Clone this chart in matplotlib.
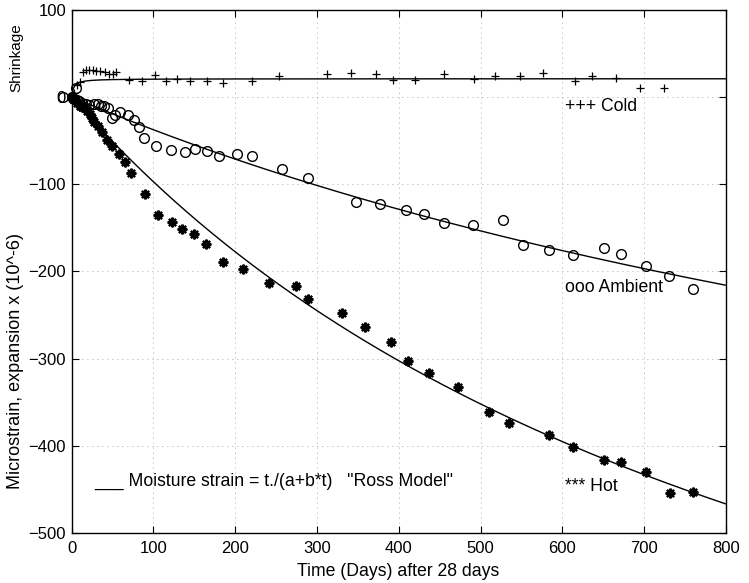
"""
Moisture strain vs time for cold / ambient / hot curing, with Ross model fits.
"""

import numpy as np
import matplotlib
matplotlib.use("Agg")
import matplotlib.pyplot as plt

plt.rcParams["font.family"] = ["Liberation Sans", "DejaVu Sans"]
plt.rcParams["font.size"] = 12

# Cold (+++) readings
cold_t = [0, 3, 6.6, 10.6, 13.6, 17.6, 21.6, 25.8, 29.8, 35, 40.5, 46, 50, 54,
          69.8, 86, 102.3, 115, 129, 145, 165, 185, 221, 253.5,
          311.9, 341.2, 372.1, 393.3, 419.8, 455.6, 491.9, 517.6, 548.2, 576.7,
          615.4, 635.8, 665.5, 694.9, 724.6]
cold_s = [0, 5, 13.2, 17, 28.4, 30.4, 30.4, 30.4, 29.6, 29.2, 28.4, 26.6, 26.6, 28.4,
          18.9, 18.1, 24.6, 17.8, 20.8, 17.8, 17.8, 16.3, 17.8, 23.8,
          25.8, 27.7, 26.6, 18.9, 18.9, 25.8, 20.8, 23.5, 23.5, 27.7,
          17.8, 23.5, 21.5, 10.5, 10.5]

# Ambient (ooo) readings
amb_t = [-11, 0, 5, 3, 6, 9, 13, 17, 21, 27, 32, 36, 40, 45, 49, 53, 59, 69,
         76, 82, 89, 103, 121.5, 138.6, 150.9, 165.2, 180.6, 201.8, 220.2, 256.8, 289,
         347.7, 377, 408.8, 430.8, 455.3, 491.1, 527.8, 552.2, 584, 612.6,
         650.9, 671.3, 702.2, 730.7, 760]
amb_s = [0, 0, 10, -2, -4, -5, -7, -8, -9, -8, -8, -10, -10, -13, -24, -21, -17, -21,
         -27, -35, -47, -56.5, -60.5, -63.2, -60.1, -62.1, -68.2, -65.1, -68.2, -82.2, -93.3,
         -120.5, -122.3, -129.2, -133.8, -144.1, -147.2, -141.5, -170.1, -175, -181.6,
         -173.2, -180.4, -193.8, -205.6, -219.7]

# Hot (***) readings
hot_t = [0, 2, 4, 7, 10, 13, 16, 19, 22, 25, 27, 32, 37, 43, 49, 58, 65, 73,
         89.7, 105.2, 123.1, 134.6, 149.6, 164.3, 185.5, 209.9, 241.3, 274.3, 289.4,
         330.2, 358.7, 390.1, 411.6, 436.7, 472, 510.6, 535.1, 584, 612.6,
         650.9, 671.3, 702.2, 731.5, 759.3]
hot_s = [0, -2, -4, -7, -10, -12, -13, -16, -20, -24, -29, -33, -40, -49, -56, -66, -75, -87,
         -111.7, -134.9, -143.4, -151, -157.5, -169, -189.2, -197.9, -213.3, -217.1, -231.2,
         -248.3, -263.7, -281.6, -303.2, -316.4, -332.8, -361, -374.4, -387.7, -401.1,
         -416.4, -418.3, -429.8, -453.8, -453.4]

# Ross model parameters (strain = t/(a+b*t)), sign gives expansion/shrinkage
ross_cold = (0.12, 0.048, 1)
ross_amb = (2.504, 0.0015, -1)
ross_hot = (0.93, 0.00098, -1)


def ross(t, params):
    a, b, sign = params
    return sign * t / (a + b * t)


fig = plt.figure(figsize=(7.49, 5.83), dpi=100)
ax = fig.add_axes([0.0956, 0.0858, 0.9693 - 0.0956, 0.9834 - 0.0858])

t_fit = np.linspace(0, 800, 400)
for p in (ross_cold, ross_amb, ross_hot):
    ax.plot(t_fit, ross(t_fit, p), color="black", linewidth=1.0)

ax.plot(cold_t, cold_s, linestyle="none", marker="+", markersize=6,
        markeredgewidth=0.9, color="black", clip_on=False)
ax.plot(amb_t, amb_s, linestyle="none", marker="o", markersize=7,
        markerfacecolor="none", markeredgewidth=1.0, color="black", clip_on=False)
ax.plot(hot_t, hot_s, linestyle="none", marker=(8, 2, 0), markersize=7,
        markeredgewidth=1.6, color="black", clip_on=False)

ax.set_xlim(0, 800)
ax.set_ylim(-500, 100)
ax.set_xticks(np.arange(0, 801, 100))
ax.set_yticks(np.arange(-500, 101, 100))
ax.tick_params(direction="in", top=True, right=True, length=5, width=0.8, labelsize=12)
ax.tick_params(axis="x", pad=6)
ax.tick_params(axis="y", pad=4)
ax.grid(True, linestyle=(0, (1, 5)), color="0.55", linewidth=0.6)
for s in ax.spines.values():
    s.set_linewidth(1.0)

ax.text(603, -11, "+++ Cold", ha="left", va="center", fontsize=12.7)
ax.text(603, -218, "ooo Ambient", ha="left", va="center", fontsize=12.7)
ax.text(603, -447, "*** Hot", ha="left", va="center", fontsize=12.7)
ax.text(28, -441, "___ Moisture strain = t./(a+b*t)   \"Ross Model\"",
        ha="left", va="center", fontsize=12.7)

fig.text(398 / 749, 1 - 572 / 583, "Time (Days) after 28 days", ha="center",
         va="center", fontsize=12.7)
fig.text(16 / 749, 1 - 58 / 583, "Shrinkage", rotation=90, ha="center",
         va="center", fontsize=11)
fig.text(16 / 749, 1 - 361 / 583, "Microstrain, expansion x (10^-6)", rotation=90,
         ha="center", va="center", fontsize=13)

fig.savefig("out.png", dpi=100)
